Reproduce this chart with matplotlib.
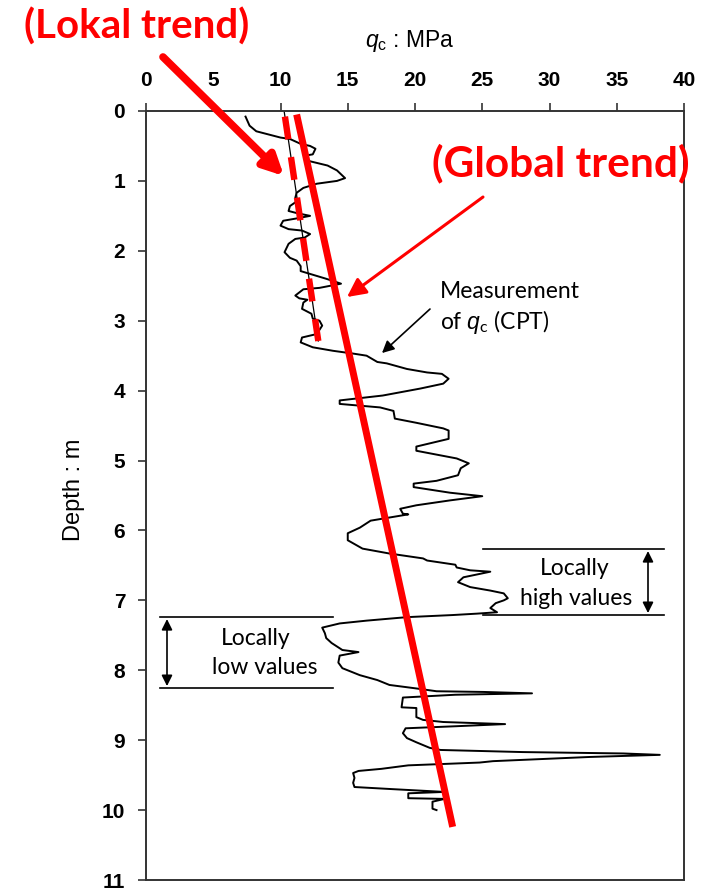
import matplotlib
matplotlib.use("Agg")
import matplotlib.pyplot as plt
import numpy as np

plt.rcParams['lines.scale_dashes'] = False
plt.rcParams['mathtext.fontset'] = 'custom'
plt.rcParams['mathtext.it'] = 'Liberation Sans:italic'
plt.rcParams['mathtext.rm'] = 'Liberation Sans'

# CPT cone resistance profile (MPa) against depth (m)
depth = [0.08, 0.21, 0.29, 0.33, 0.38, 0.40, 0.47, 0.50, 0.54, 0.62, 0.64, 0.71, 0.78, 0.85,
         0.96, 1.00, 1.04, 1.10, 1.17, 1.24, 1.28, 1.36, 1.43, 1.46, 1.50, 1.54, 1.57, 1.64,
         1.69, 1.71, 1.76, 1.81, 1.83, 1.90, 2.02, 2.10, 2.14, 2.22, 2.29, 2.33, 2.40, 2.47,
         2.53, 2.55, 2.64, 2.68, 2.70, 2.74, 2.83, 2.90, 2.97, 3.00, 3.07, 3.19, 3.24, 3.31,
         3.38, 3.43, 3.47, 3.50, 3.59, 3.61, 3.69, 3.74, 3.76, 3.83, 3.90, 3.97, 4.07, 4.14,
         4.19, 4.24, 4.29, 4.40, 4.46, 4.54, 4.57, 4.69, 4.80, 4.86, 4.97, 5.04, 5.11, 5.21,
         5.29, 5.33, 5.38, 5.46, 5.51, 5.57, 5.64, 5.69, 5.76, 5.77, 5.86, 5.96, 6.04, 6.14,
         6.26, 6.33, 6.40, 6.43, 6.49, 6.53, 6.57, 6.59, 6.67, 6.74, 6.81, 6.86, 6.90, 6.97,
         7.00, 7.04, 7.11, 7.17, 7.19, 7.21, 7.24, 7.29, 7.33, 7.39, 7.47, 7.54, 7.61, 7.71,
         7.74, 7.79, 7.89, 7.97, 8.07, 8.14, 8.21, 8.26, 8.30, 8.31, 8.33, 8.35, 8.37, 8.39,
         8.53, 8.54, 8.67, 8.71, 8.74, 8.77, 8.80, 8.83, 8.90, 8.97, 9.03, 9.07, 9.11, 9.14,
         9.17, 9.19, 9.21, 9.24, 9.30, 9.32, 9.36, 9.41, 9.44, 9.47, 9.54, 9.61, 9.67, 9.70,
         9.73, 9.74, 9.76, 9.83, 9.84, 9.88, 9.98, 10.00]
qc = [7.4, 7.7, 8.2, 9.0, 10.0, 10.7, 11.5, 12.2, 12.6, 12.4, 11.8, 12.0, 13.5, 14.2,
      14.8, 14.2, 12.7, 11.7, 11.2, 11.1, 11.3, 10.7, 10.6, 11.2, 12.2, 11.1, 10.2, 10.0,
      10.6, 11.6, 12.2, 11.8, 11.1, 10.6, 10.3, 10.7, 11.2, 11.5, 11.5, 12.2, 13.4, 14.5,
      12.9, 11.7, 11.1, 11.4, 12.0, 11.7, 11.6, 12.3, 12.4, 12.9, 13.1, 12.7, 11.6, 11.5,
      12.4, 13.9, 15.4, 16.4, 17.2, 17.9, 19.4, 20.9, 22.0, 22.5, 22.1, 20.4, 17.6, 14.4,
      14.4, 17.4, 18.4, 18.5, 20.1, 22.1, 22.5, 22.5, 20.1, 20.1, 23.1, 24.0, 23.4, 23.2,
      21.6, 19.9, 19.9, 22.6, 25.0, 22.6, 20.1, 18.9, 19.1, 19.5, 16.7, 15.9, 15.0, 15.0,
      16.1, 18.1, 20.6, 20.9, 23.0, 23.1, 24.1, 25.6, 23.6, 23.2, 24.1, 25.6, 26.6, 26.9,
      26.6, 26.0, 25.6, 26.1, 24.6, 22.8, 19.4, 16.4, 14.4, 13.1, 13.3, 13.4, 13.8, 14.6,
      15.8, 14.4, 14.3, 14.6, 15.9, 17.2, 18.1, 20.1, 21.6, 25.1, 28.7, 23.0, 21.0, 19.1,
      19.0, 20.1, 20.1, 20.6, 22.1, 26.7, 23.1, 19.3, 19.1, 19.4, 20.1, 20.6, 21.1, 21.9,
      28.0, 35.5, 38.2, 33.0, 25.8, 24.8, 19.5, 17.5, 15.8, 15.4, 15.5, 15.4, 15.5, 18.3,
      21.3, 22.2, 19.5, 19.5, 22.2, 21.3, 21.3, 21.6]

# Trend lines: (qc, depth) end points
global_trend_qc = [11.2, 22.8]
global_trend_depth = [0.05, 10.24]
local_trend_qc = [10.33, 12.81]
local_trend_depth = [0.08, 3.29]

x_ticks = list(range(0, 45, 5))
y_ticks = list(range(0, 12))

W, H = 715, 889
fig = plt.figure(figsize=(W / 100, H / 100), dpi=100)
ax = fig.add_axes([146 / W, 1 - 880 / H, 538 / W, 769 / H])

ax.set_xlim(0, 40)
ax.set_ylim(11, 0)

ax.plot(qc, depth, color='black', lw=1.4, zorder=3)

# thin guide under the local trend, then the red trends
slope = (local_trend_qc[1] - local_trend_qc[0]) / (local_trend_depth[1] - local_trend_depth[0])
q_top = local_trend_qc[0] - slope * local_trend_depth[0]
ax.plot([q_top, local_trend_qc[1]], [0.0, local_trend_depth[1]], color='black', lw=0.9, zorder=2)
ax.plot(local_trend_qc, local_trend_depth, color='#ff0000', lw=4.6,
        ls=(0, (16.5, 13)), solid_capstyle='butt', dash_capstyle='butt', zorder=4)
ax.plot(global_trend_qc, global_trend_depth, color='#ff0000', lw=5.0,
        solid_capstyle='butt', zorder=4)

# axes styling
ax.xaxis.tick_top()
ax.set_xticks(x_ticks)
ax.set_yticks(y_ticks)
tick_font = dict(family='Liberation Sans', size=15, weight='bold')
ax.set_xticklabels([str(v) for v in x_ticks], fontdict=tick_font)
ax.set_yticklabels([str(v) for v in y_ticks], fontdict=tick_font)
ax.tick_params(axis='both', direction='out', length=6, width=1.2, color='#333333', pad=9)
for s in ax.spines.values():
    s.set_color('#333333')
    s.set_linewidth(1.4)

ax.set_xlabel(r'$q_\mathregular{c}$ : MPa', fontsize=16.5, family='Liberation Sans')
ax.xaxis.set_label_position('top')
ax.xaxis.set_label_coords(0.49, 1.083)
ax.set_ylabel('Depth : m', fontsize=17, family='Liberation Sans')
ax.yaxis.set_label_coords(-0.113, 0.507)


def px(x, y):
    """pixel position -> data coordinates"""
    return (x - 146) / 13.45, (y - 111) / 69.9


note_font = dict(family='Lato', size=16.5, color='black')

# red labels and arrows
fig.text(137 / W, 1 - 27 / H, '(Lokal trend)', ha='center', va='center',
         family='Lato', weight='bold', size=29, color='#ff0000')
fig.text(561 / W, 1 - 163 / H, '(Global trend)', ha='center', va='center',
         family='Lato', weight='bold', size=30.5, color='#ff0000')
ax.annotate('', xy=px(284, 176), xytext=px(163, 57), annotation_clip=False,
            arrowprops=dict(arrowstyle='-|>', lw=5.5, color='#ff0000',
                            mutation_scale=30, shrinkA=0, shrinkB=0))
ax.annotate('', xy=px(347, 297), xytext=px(483, 197), annotation_clip=False,
            arrowprops=dict(arrowstyle='-|>', lw=2.2, color='#ff0000',
                            mutation_scale=28, shrinkA=0, shrinkB=0))

# measurement note
ax.text(*px(440, 291), 'Measurement', ha='left', va='center', **note_font)
ax.text(*px(440, 322), r'of $q_\mathregular{c}$ (CPT)', ha='left', va='center', **note_font)
ax.annotate('', xy=px(382, 353), xytext=px(430, 309),
            arrowprops=dict(arrowstyle='-|>', lw=1.2, color='black',
                            mutation_scale=18, shrinkA=0, shrinkB=0))

# locally high values
for yy in (549, 615):
    ax.plot([px(483, 0)[0], px(664, 0)[0]], [px(0, yy)[1]] * 2, color='black', lw=1.2)
ax.annotate('', xy=px(648, 551), xytext=px(648, 613),
            arrowprops=dict(arrowstyle='<|-|>', lw=1.2, color='black',
                            mutation_scale=16, shrinkA=0, shrinkB=0))
ax.text(*px(575, 568), 'Locally', ha='center', va='center', **note_font)
ax.text(*px(576, 598), 'high values', ha='center', va='center', **note_font)

# locally low values
for yy in (617, 688):
    ax.plot([px(160, 0)[0], px(333, 0)[0]], [px(0, yy)[1]] * 2, color='black', lw=1.2)
ax.annotate('', xy=px(167, 619), xytext=px(167, 686),
            arrowprops=dict(arrowstyle='<|-|>', lw=1.2, color='black',
                            mutation_scale=16, shrinkA=0, shrinkB=0))
ax.text(*px(256, 638), 'Locally', ha='center', va='center', **note_font)
ax.text(*px(265, 667), 'low values', ha='center', va='center', **note_font)

fig.savefig('out.png', dpi=100, facecolor='white')
